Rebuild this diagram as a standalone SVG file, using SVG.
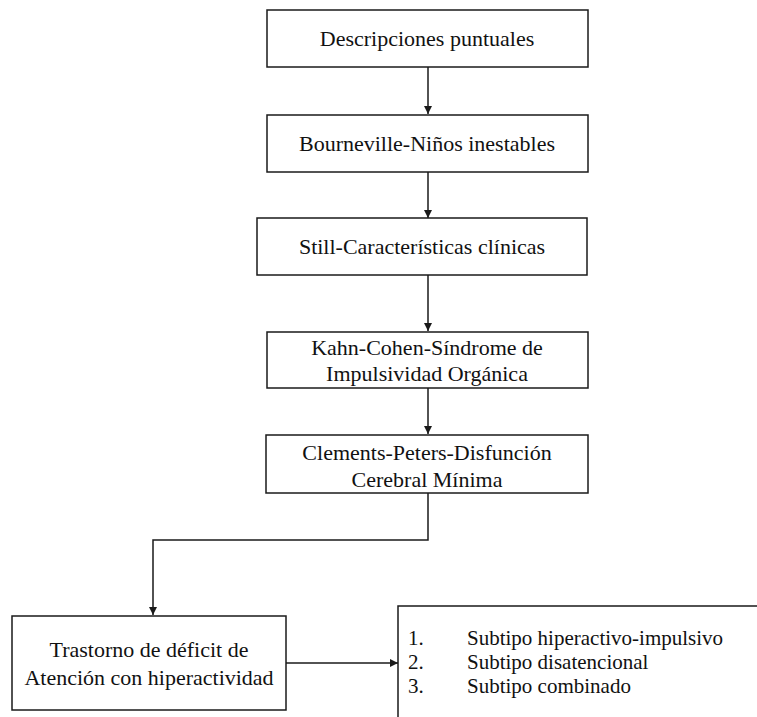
<svg xmlns="http://www.w3.org/2000/svg" width="757" height="717" viewBox="0 0 757 717">
<style>
.box{fill:#fff;stroke:#1a1a1a;stroke-width:1.5}
.t{font-family:"Liberation Serif","Times New Roman",serif;font-size:22px;fill:#111;text-anchor:middle}
.l{font-family:"Liberation Serif","Times New Roman",serif;font-size:21px;fill:#111}
.c{fill:none;stroke:#1a1a1a;stroke-width:1.5}
</style>
<defs>
<marker id="ah" markerWidth="8" markerHeight="8" refX="8" refY="4" orient="auto" markerUnits="userSpaceOnUse">
<path d="M0,0 L8,4 L0,8 Z" fill="#1a1a1a"/>
</marker>
</defs>
<rect width="757" height="717" fill="#fff"/>
<g id="connectors">
<line class="c" x1="428" y1="67" x2="428" y2="114" marker-end="url(#ah)"/>
<line class="c" x1="428" y1="172" x2="428" y2="218" marker-end="url(#ah)"/>
<line class="c" x1="428" y1="275" x2="428" y2="331" marker-end="url(#ah)"/>
<line class="c" x1="428" y1="388" x2="428" y2="434" marker-end="url(#ah)"/>
<polyline class="c" points="428,493 428,540 153,540 153,615" marker-end="url(#ah)"/>
<line class="c" x1="286" y1="663" x2="398" y2="663" marker-end="url(#ah)"/>
</g>
<g id="n1">
<rect class="box" x="267" y="10" width="321" height="57"/>
<text class="t" x="427" y="46">Descripciones puntuales</text>
</g>
<g id="n2">
<rect class="box" x="267" y="115" width="321" height="57"/>
<text class="t" x="427" y="151">Bourneville-Niños inestables</text>
</g>
<g id="n3">
<rect class="box" x="257" y="218" width="330" height="57"/>
<text class="t" x="422" y="254">Still-Características clínicas</text>
</g>
<g id="n4">
<rect class="box" x="267" y="332" width="321" height="56"/>
<text class="t" x="427" y="355">Kahn-Cohen-Síndrome de</text>
<text class="t" x="427" y="381">Impulsividad Orgánica</text>
</g>
<g id="n5">
<rect class="box" x="266" y="435" width="322" height="58"/>
<text class="t" x="427" y="460">Clements-Peters-Disfunción</text>
<text class="t" x="427" y="487">Cerebral Mínima</text>
</g>
<g id="n6">
<rect class="box" x="12" y="616" width="274" height="94"/>
<text class="t" x="149" y="657">Trastorno de déficit de</text>
<text class="t" x="149" y="685">Atención con hiperactividad</text>
</g>
<g id="n7">
<rect class="box" x="398" y="606" width="400" height="130"/>
<text class="l" x="408" y="645">1.</text>
<text class="l" x="467" y="645">Subtipo hiperactivo-impulsivo</text>
<text class="l" x="408" y="669">2.</text>
<text class="l" x="467" y="669">Subtipo disatencional</text>
<text class="l" x="408" y="693">3.</text>
<text class="l" x="467" y="693">Subtipo combinado</text>
</g>
</svg>
